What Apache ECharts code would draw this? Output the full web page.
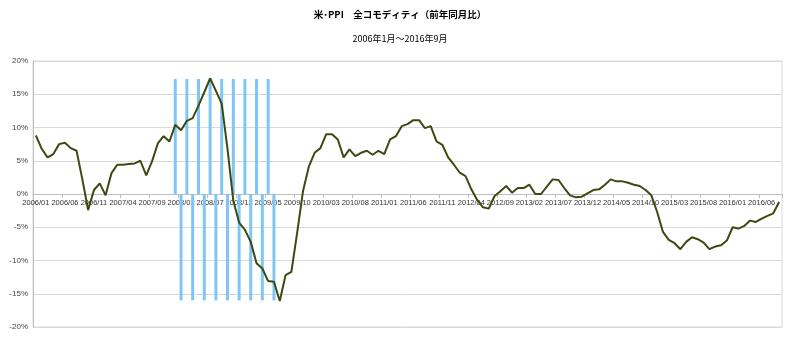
<!DOCTYPE html>
<html>
<head>
<meta charset="utf-8">
<script src="https://cdn.jsdelivr.net/npm/echarts@6/dist/echarts.min.js"></script>
<style>html,body{margin:0;padding:0;background:#fff;}#c{width:800px;height:343px;}</style>
</head>
<body>
<div id="c"></div>
<script>
var titleText = '米･PPI　全コモディティ（前年同月比）';
var subtitleText = '2006年1月～2016年9月';
var startYear = 2006, startMonth = 1, monthCount = 129;
var ppiYoY = [
  8.8, 6.8, 5.5, 6.0, 7.5, 7.7, 6.9, 6.5, 2.2, -2.4, 0.6, 1.6,
  -0.2, 3.1, 4.4, 4.4, 4.5, 4.6, 5.0, 2.8, 4.9, 7.6, 8.7, 7.9,
  10.4, 9.6, 11.0, 11.4, 13.3, 15.3, 17.4, 15.5, 13.6, 6.8, -1.0, -4.3,
  -5.4, -7.2, -10.4, -11.2, -13.1, -13.2, -16.1, -12.2, -11.7, -5.8, 0.4, 4.1,
  6.2, 6.9, 9.0, 9.0, 8.2, 5.5, 6.7, 5.7, 6.2, 6.5, 5.9, 6.5,
  6.0, 8.2, 8.7, 10.2, 10.5, 11.1, 11.1, 9.9, 10.2, 7.9, 7.4, 5.5,
  4.4, 3.2, 2.7, 0.7, -0.9, -2.0, -2.2, -0.3, 0.4, 1.2, 0.2, 0.9,
  0.9, 1.4, 0.0, 0.0, 1.1, 2.2, 2.1, 0.9, -0.2, -0.5, -0.4, 0.1,
  0.6, 0.7, 1.4, 2.2, 1.9, 1.9, 1.7, 1.4, 1.2, 0.6, -0.2, -2.7,
  -5.7, -6.9, -7.4, -8.3, -7.2, -6.5, -6.8, -7.3, -8.3, -7.9, -7.7, -7.0,
  -5.0, -5.2, -4.8, -4.0, -4.2, -3.7, -3.3, -2.9, -1.2
];
var recessionStart = '2008/01';
var recessionBars = [17.3, -16, 17.3, -16, 17.3, -16, 17.3, -16, 17.3, -16, 17.3, -16, 17.3, -16, 17.3, -16, 17.3, -16];
var yTicks = [-20, -15, -10, -5, 0, 5, 10, 15, 20];
var labelEvery = 5;

var categories = [];
for (var k = 0; k < monthCount; k++) {
  var m = startMonth - 1 + k;
  var yy = startYear + Math.floor(m / 12);
  var mm = (m % 12) + 1;
  categories.push(yy + '/' + (mm < 10 ? '0' + mm : mm));
}
var recIdx = categories.indexOf(recessionStart);
var barData = categories.map(function (c, i) {
  var j = i - recIdx;
  return (j >= 0 && j < recessionBars.length) ? recessionBars[j] : '-';
});

var gridTop = 61, gridBottom = 16, chartH = 343;
var yMin = yTicks[0], yMax = yTicks[yTicks.length - 1];
var plotH = chartH - gridTop - gridBottom;
var zeroOffset = -plotH * (0 - yMin) / (yMax - yMin);
var showEvery = function (idx) { return idx % labelEvery === 0; };

var chart = echarts.init(document.getElementById('c'), null, {renderer: 'canvas'});
chart.setOption({
  animation: false,
  backgroundColor: '#ffffff',
  title: [
    {text: titleText, left: 'center', top: 5,
     textStyle: {fontFamily: 'Noto Sans CJK JP', fontSize: 9.5, fontWeight: 'bold', color: '#000'}},
    {text: subtitleText, left: 'center', top: 29,
     textStyle: {fontFamily: 'Noto Sans CJK JP', fontSize: 9, fontWeight: 'normal', color: '#000'}}
  ],
  grid: {left: 33, right: 18, top: gridTop, bottom: gridBottom, show: true, borderColor: '#d9d9d9', borderWidth: 1},
  xAxis: {
    type: 'category',
    data: categories,
    boundaryGap: true,
    position: 'bottom',
    offset: zeroOffset,
    axisLine: {onZero: false, lineStyle: {color: '#bfbfbf', width: 1}},
    axisTick: {show: true, interval: showEvery, length: 4, lineStyle: {color: '#bfbfbf'}},
    axisLabel: {interval: showEvery, fontSize: 7.5, color: '#333', margin: 5,
                fontFamily: 'Liberation Sans', hideOverlap: false},
    splitLine: {show: false}
  },
  yAxis: {
    type: 'value',
    min: yMin, max: yMax, interval: 5,
    axisLine: {show: true, lineStyle: {color: '#bfbfbf'}},
    axisTick: {show: false},
    axisLabel: {formatter: '{value}%', fontSize: 8, color: '#444', margin: 5,
                fontFamily: 'Liberation Sans'},
    splitLine: {lineStyle: {color: '#d9d9d9', width: 1}}
  },
  series: [
    {type: 'bar', data: barData, barWidth: 3, itemStyle: {color: '#7fc6f7'}, z: 1},
    {type: 'line', data: ppiYoY, symbol: 'none', smooth: false,
     lineStyle: {color: '#3c4a12', width: 2}, z: 3}
  ]
});
</script>
</body>
</html>
